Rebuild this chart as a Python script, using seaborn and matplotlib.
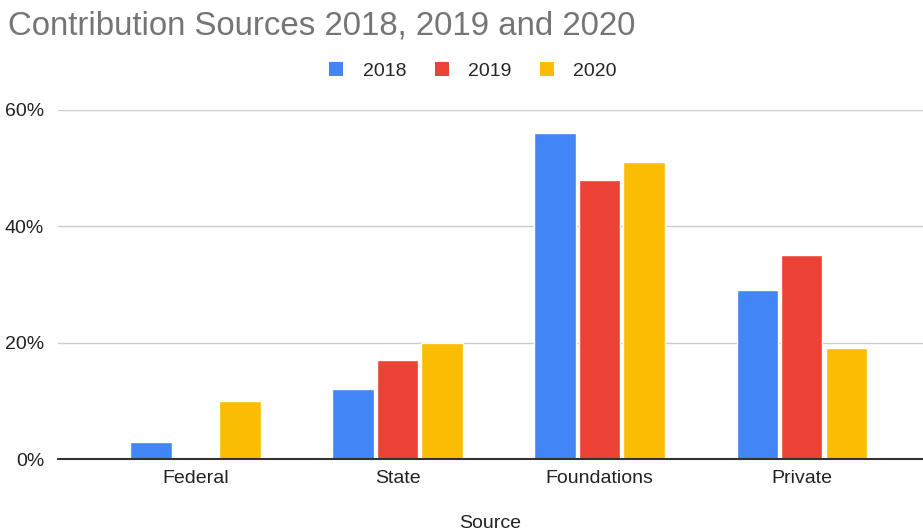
import matplotlib
matplotlib.use("Agg")
import matplotlib.pyplot as plt
import seaborn as sns
import pandas as pd
from matplotlib.ticker import FuncFormatter
from matplotlib.patches import Patch

categories = ["Federal", "State", "Foundations", "Private"]
years = ["2018", "2019", "2020"]
v2018 = [3, 12, 56, 29]
v2019 = [0, 17, 48, 35]
v2020 = [10, 20, 51, 19]
yticks = [0, 20, 40, 60]

rows = []
for yr, vals in zip(years, [v2018, v2019, v2020]):
    for c, v in zip(categories, vals):
        rows.append({"Source": c, "Year": yr, "Value": v})
df = pd.DataFrame(rows)

sns.set_theme(style="white")
plt.rcParams["font.family"] = ["Liberation Sans", "DejaVu Sans"]

fig = plt.figure(figsize=(9.23, 5.32), dpi=100)
ax = fig.add_axes([58/923, 1-459/532, 1-58/923, (459-110)/532])

palette = {"2018": "#4285F4", "2019": "#EA4335", "2020": "#FBBC04"}
sns.barplot(data=df, x="Source", y="Value", hue="Year", palette=palette,
            width=0.66, gap=0.07, ax=ax, legend=False, saturation=1)

ax.set_ylim(0, 60)
ax.set_xlim(-0.68, 3.60)
ax.set_yticks(yticks)
ax.yaxis.set_major_formatter(FuncFormatter(lambda v, p: f"{int(v)}%"))
ax.grid(axis="y", color="#cccccc", linewidth=1)
ax.set_axisbelow(True)
for s in ["top", "right", "left"]:
    ax.spines[s].set_visible(False)
ax.spines["bottom"].set_color("#333333")
ax.spines["bottom"].set_linewidth(1.5)
ax.spines["bottom"].set_zorder(5)
ax.tick_params(axis="both", length=0, labelsize=14, labelcolor="#222222")
ax.tick_params(axis="x", pad=8)
ax.tick_params(axis="y", pad=10)
ax.set_ylabel("")
ax.set_xlabel("Source", fontsize=14, color="#222222")
ax.xaxis.set_label_coords(0.5, (459-524)/349)
ax.xaxis.label.set_va("center")

fig.text(8/923, 1-26/532, "Contribution Sources 2018, 2019 and 2020",
         fontsize=23.8, color="#757575", ha="left", va="center")

handles = [Patch(facecolor=palette[y], edgecolor="none", label=y) for y in years]
fig.legend(handles=handles, loc="center", bbox_to_anchor=(473/923, 1-71/532),
           ncol=3, frameon=False, fontsize=14, handlelength=0.72, handleheight=0.72,
           columnspacing=1.45, handletextpad=1.0)

fig.savefig("out.png", dpi=100)
